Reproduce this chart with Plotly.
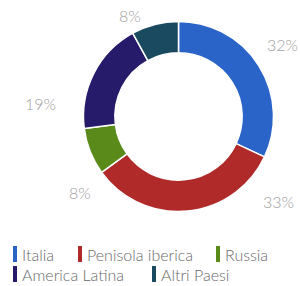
import plotly.graph_objects as go

labels = ["Italia", "Penisola iberica", "Russia", "America Latina", "Altri Paesi"]
values = [32, 33, 8, 19, 8]
colors = ["#2a64c8", "#b02a2a", "#5a8a1a", "#261a6a", "#1a4a60"]

W, H = 300, 286
# percentage label centres (pixels from top-left)
pct_pos = [(282, 45), (278, 201), (80, 192), (40, 103), (130, 15)]
# legend swatch left edge / centre (pixels)
legend_pos = [(13, 254), (78, 254), (216, 254), (13, 274), (152, 274)]

fig = go.Figure()
fig.add_trace(go.Pie(
    labels=labels, values=values, sort=False, direction="clockwise", rotation=0,
    hole=0.67, marker=dict(colors=colors, line=dict(color="white", width=1.5)),
    textinfo="none",
    domain=dict(x=[0.278, 0.912], y=[0.2605, 0.925]),
    showlegend=False, hoverinfo="label+percent",
))

for v, (px, py) in zip(values, pct_pos):
    fig.add_annotation(
        x=px / W, y=1 - py / H, xref="paper", yref="paper",
        xanchor="center", yanchor="middle", text=f"{v}%", showarrow=False,
        font=dict(family="Lato", size=16, color="#a0a0a0", weight=300),
    )

for lab, col, (px, py) in zip(labels, colors, legend_pos):
    fig.add_shape(
        type="rect", xref="paper", yref="paper",
        x0=px / W, x1=(px + 4) / W, y0=1 - (py + 8) / H, y1=1 - (py - 8) / H,
        fillcolor=col, line=dict(width=0),
    )
    fig.add_annotation(
        x=(px + 7) / W, y=1 - py / H, xref="paper", yref="paper",
        xanchor="left", yanchor="middle", text=lab, showarrow=False,
        font=dict(family="Lato", size=16, color="#6a6a6a", weight=300),
    )

fig.update_layout(
    width=W, height=H, margin=dict(l=0, r=0, t=0, b=0),
    paper_bgcolor="white", plot_bgcolor="white",
)
fig.write_html("out.html", config={"displayModeBar": False},
               post_script="document.body.style.margin='0px';")
